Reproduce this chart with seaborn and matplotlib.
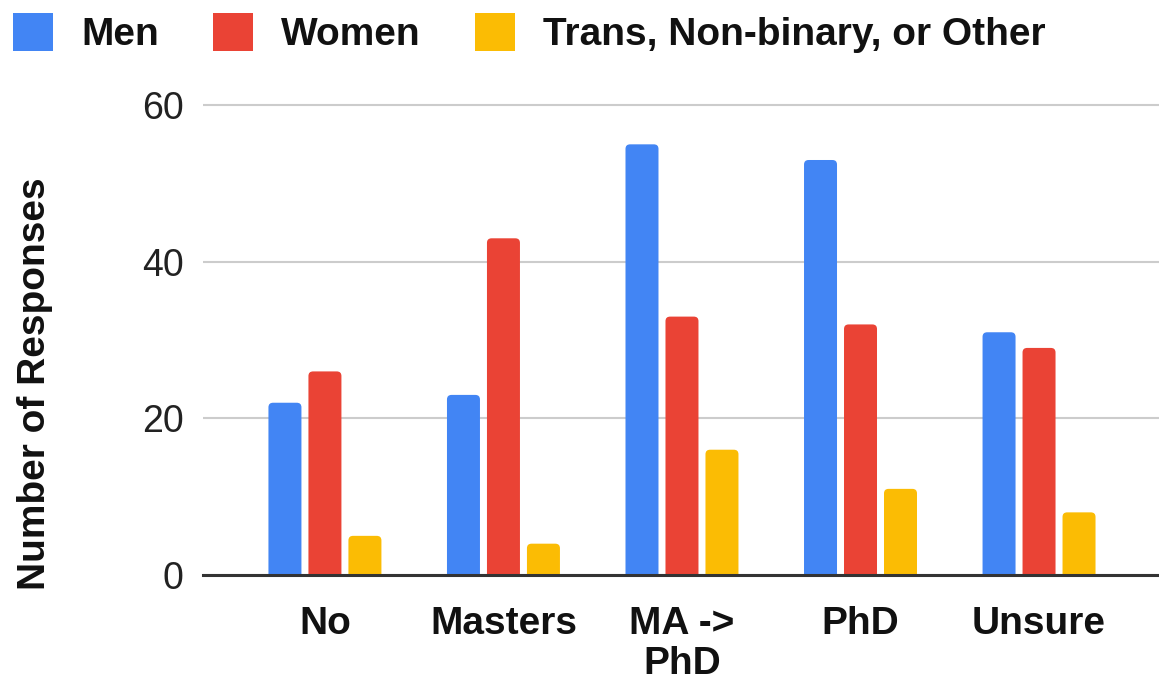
import matplotlib
matplotlib.use("Agg")
import matplotlib.pyplot as plt
from matplotlib.patches import FancyBboxPatch, Patch
import pandas as pd
import seaborn as sns

# Survey data: plans for graduate school, split by gender
plans = ["No", "Masters", "MA ->\nPhD", "PhD", "Unsure"]
genders = ["Men", "Women", "Trans, Non-binary, or Other"]
men = [22, 23, 55, 53, 31]
women = [26, 43, 33, 32, 29]
other = [5, 4, 16, 11, 8]
colors = ["#4285F4", "#EA4335", "#FBBC04"]

df = pd.DataFrame({
    "Plan": plans * 3,
    "Gender": [g for g in genders for _ in plans],
    "Count": men + women + other,
})

sns.set_theme(style="white")
plt.rcParams["font.family"] = ["Liberation Sans", "DejaVu Sans"]

fig = plt.figure(figsize=(11.59, 6.81), dpi=100)
ax = fig.add_axes([0.17515, 0.15565, 0.82485, 0.7014])

sns.barplot(data=df, x="Plan", y="Count", hue="Gender", order=plans,
            hue_order=genders, palette=colors, saturation=1, width=0.672,
            gap=0.175, legend=False, ax=ax)

# Give each bar softly rounded top corners
for bar in list(ax.patches):
    x, w, h = bar.get_x(), bar.get_width(), bar.get_height()
    fc = bar.get_facecolor()
    bar.remove()
    ax.add_patch(FancyBboxPatch((x, -1), w, h + 1,
                                boxstyle="round,pad=0,rounding_size=0.026",
                                mutation_aspect=22.3, fc=fc, ec="none",
                                zorder=2))

ax.set_xlim(-0.683, 4.672)
ax.set_ylim(0, 61)
ax.set_yticks([0, 20, 40, 60])
ax.yaxis.grid(True, color="#cccccc", linewidth=1.5)
ax.set_axisbelow(True)
for side in ["top", "right", "left"]:
    ax.spines[side].set_visible(False)
ax.spines["bottom"].set_color("#333333")
ax.spines["bottom"].set_linewidth(2.2)
ax.spines["bottom"].set_zorder(3)

ax.tick_params(axis="y", length=0, pad=14, labelsize=27, labelcolor="#222222")
ax.tick_params(axis="x", length=0, pad=22, labelsize=28, labelcolor="#111111")
for lbl in ax.get_xticklabels():
    lbl.set_fontweight("bold")
    lbl.set_linespacing(1.15)
ax.set_xlabel("")
ax.set_ylabel("")

fig.text(35 / 1159, 1 - 384 / 681, "Number of Responses", rotation=90,
         ha="center", va="center", fontsize=28, fontweight="bold",
         color="#111111")

handles = [Patch(facecolor=c, edgecolor="none") for c in colors]
fig.legend(handles, genders, loc="center left",
           bbox_to_anchor=(13 / 1159, 1 - 33 / 681), ncol=3, frameon=False,
           borderpad=0, borderaxespad=0, handlelength=1.03, handleheight=1.15,
           handletextpad=0.72, columnspacing=1.4,
           prop={"size": 28, "weight": "bold"}, labelcolor="#111111")

fig.savefig("out.png", dpi=100, facecolor="white")
